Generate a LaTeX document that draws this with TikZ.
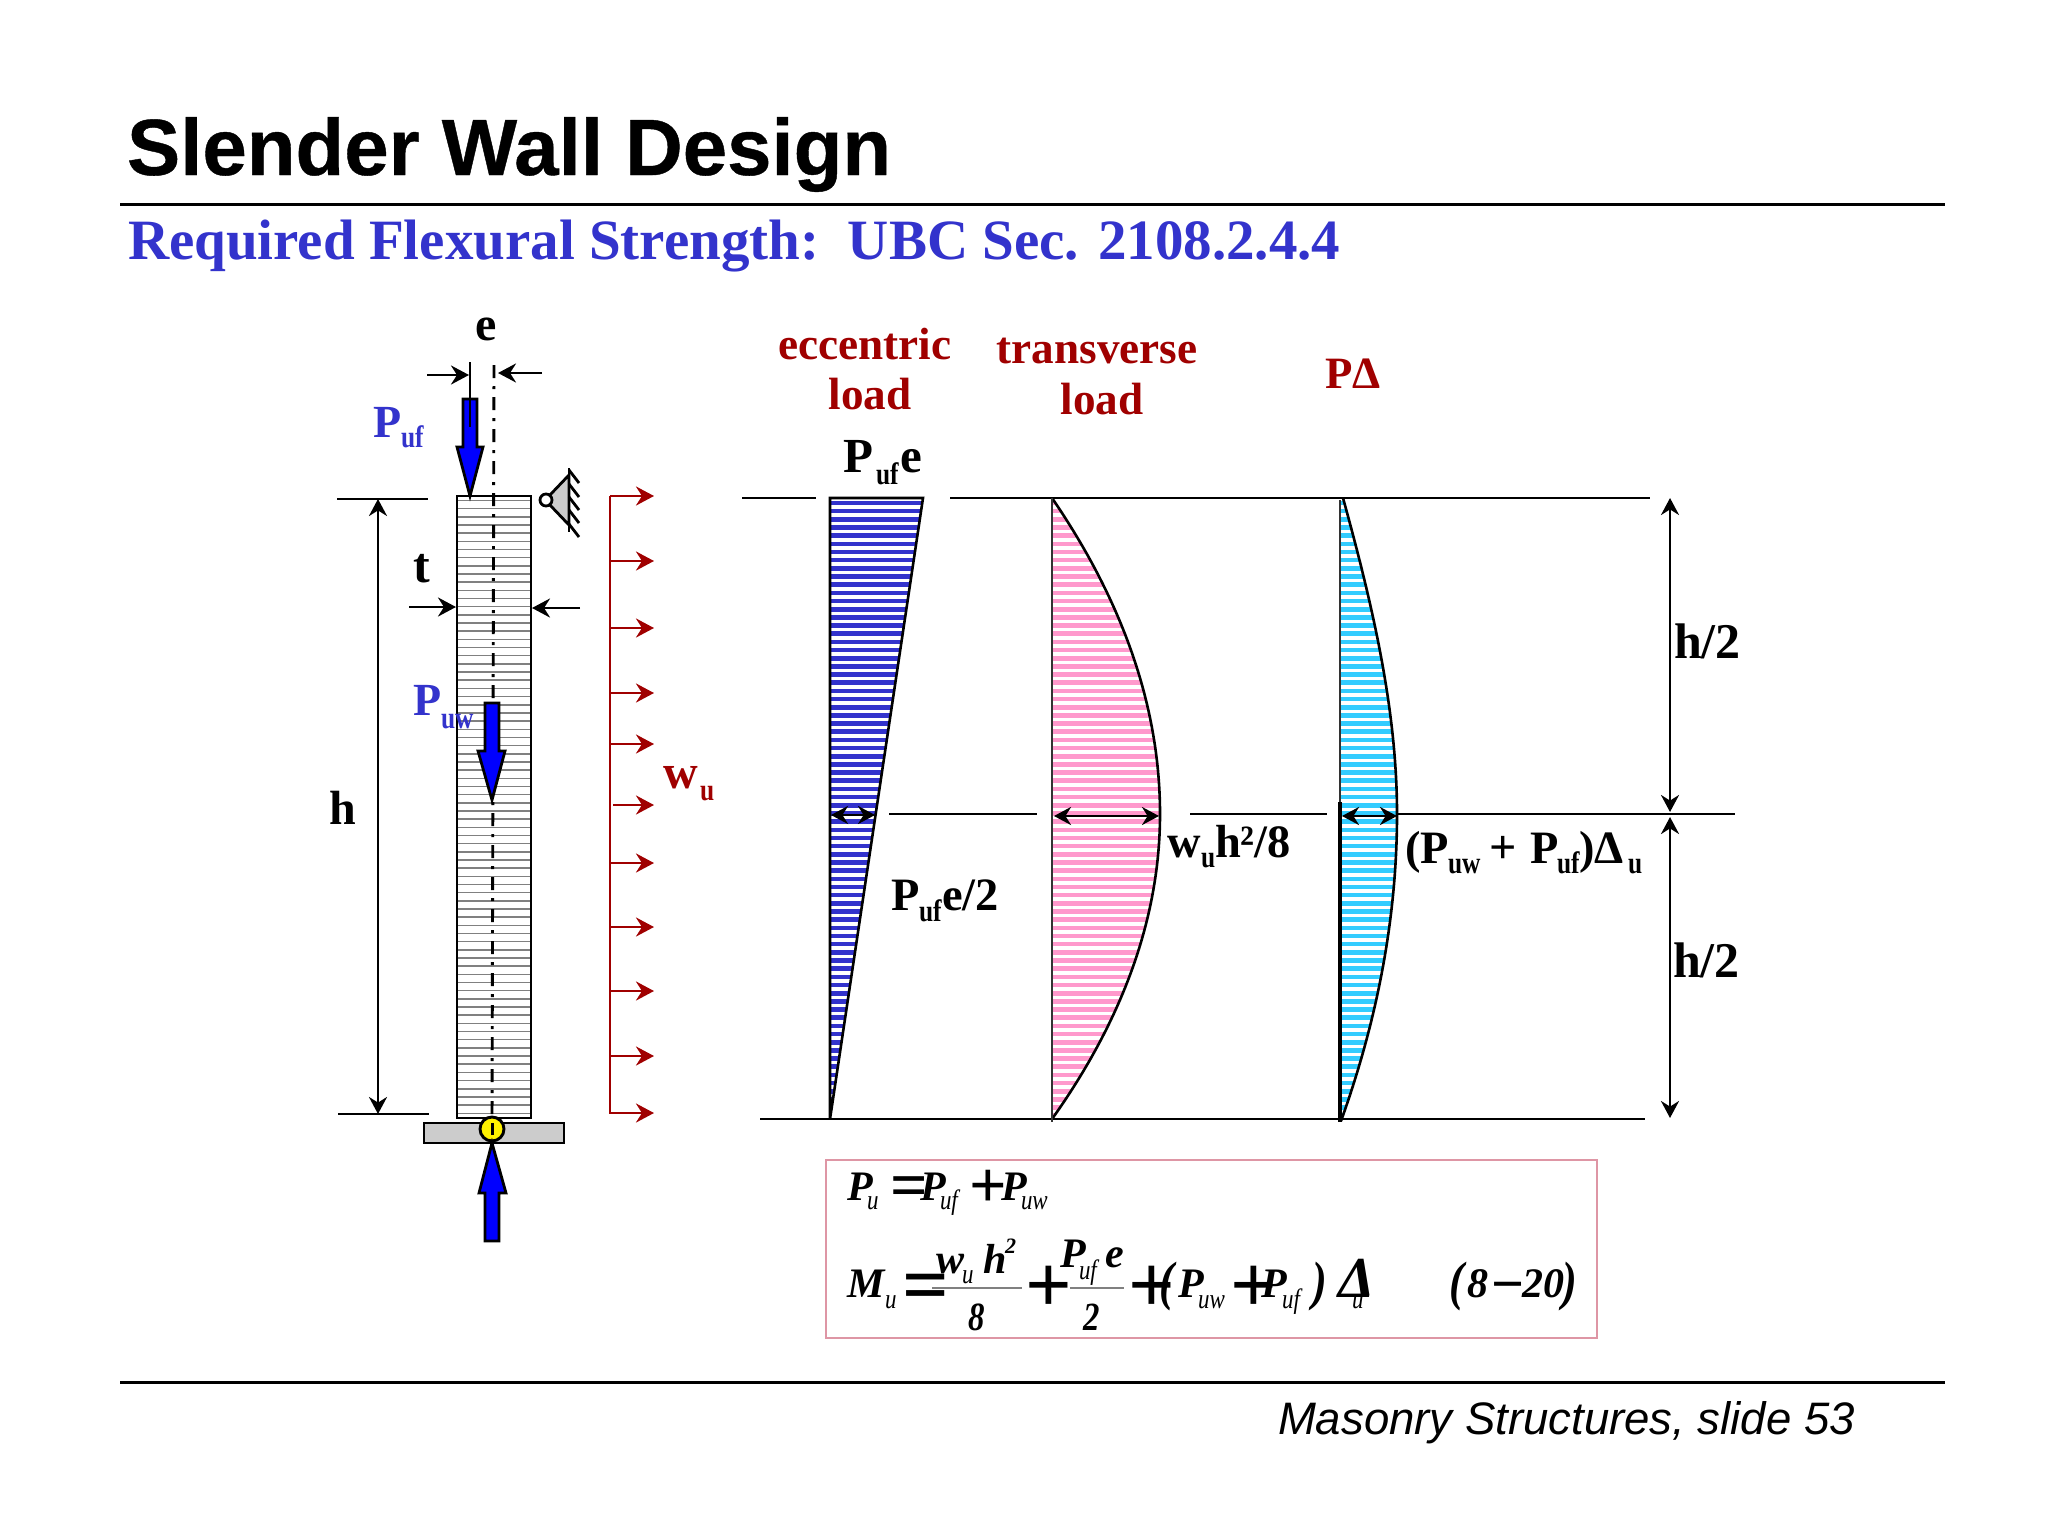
\documentclass[tikz,border=0pt]{standalone}
\usepackage{fontspec}
\usetikzlibrary{arrows.meta}
\setmainfont{Liberation Serif}
\newfontfamily\arialfont{Liberation Sans}
\newfontfamily\arialheavy{Liberation Sans}[FakeBold=0.5]
\newfontfamily\condf{Liberation Serif}[FakeStretch=0.82]
\definecolor{slideblue}{RGB}{51,51,204}
\definecolor{loadred}{RGB}{160,0,0}
\definecolor{hatchpink}{RGB}{255,153,204}
\definecolor{hatchcyan}{RGB}{51,204,255}
\definecolor{arrowblue}{RGB}{0,0,255}
\definecolor{boxpink}{RGB}{222,150,165}
\newcommand\fsz[1]{\fontsize{#1}{#1}\selectfont}
\newcommand\lbl[4][]{\node[tx,#1] (#2) at (#3) {#4};}
\tikzset{
 tx/.style={inner sep=0pt,outer sep=0pt,anchor=base west},
 bigb/.style={font=\fsz{23.2}\bfseries},
 subb/.style={font=\condf\fsz{15.5}\bfseries},
 head/.style={font=\fsz{22.6}\bfseries,text=loadred,anchor=base},
 fi/.style={font=\fsz{21}\bfseries\itshape},
 fparen/.style={font=\condf\fsz{27}\bfseries\itshape},
 fnum/.style={font=\condf\fsz{20}\bfseries\itshape},
 fs/.style={font=\condf\fsz{14}\itshape},
 fop/.style={anchor=center},
 blk/.style={draw=black,line width=1.45pt},
 redl/.style={draw=loadred,line width=1.4pt},
 dimtip/.style={-{Stealth[length=9pt,width=9.5pt,inset=3pt]}},
 dimboth/.style={{Stealth[length=8.5pt,width=9pt,inset=2.8pt]}-{Stealth[length=8.5pt,width=9pt,inset=2.8pt]},draw=black,line width=1.45pt},
 bluearrow/.style={draw=black,line width=1.4pt,fill=arrowblue,line join=miter},
 stripe/.style={line width=2.3pt},
}
\begin{document}
\begin{tikzpicture}[x=0.5pt,y=-0.5pt]
\fill[white] (0,0) rectangle (2048,1536);
\useasboundingbox (0,0) rectangle (2048,1536);

% heading
\lbl[font=\arialheavy\fsz{39.9}\bfseries]{title}{127,175}{Slender Wall Design}
\lbl[font=\fsz{28.5}\bfseries,text=slideblue]{subtitle}{128,259}{Required Flexural Strength:\ \ UBC Sec. 2108.2.4.4}
\draw[line width=1.5pt] (120,204.5) -- (1945,204.5);
\draw[line width=1.5pt] (120,1382) -- (1945,1382);
\lbl[font=\arialfont\fsz{22.76}\itshape]{footer}{1278,1434}{Masonry Structures, slide 53}

% wall
\foreach \k in {0,...,75}{\draw[black!50,line width=0.75pt] (457,{500.5+8.17*\k}) -- (531,{500.5+8.17*\k});}
\draw[blk] (457,496) rectangle (531,1118);
\draw[blk,dash pattern=on 6.5pt off 4pt on 1.5pt off 4pt] (494,365) -- (492,1121);
\draw[blk,fill=black!20] (424,1123) rectangle (564,1143);
\draw[blk,fill=yellow] (492,1129) circle (12);
\draw[line width=1.5pt] (492,1123) -- (492,1135);

% force arrows
\draw[bluearrow] (463,399) -- (477,399) -- (477,447) -- (483,447) -- (470,496) -- (457,447) -- (463,447) -- cycle;
\draw[line width=1.4pt] (470,362) -- (470,427);
\draw[bluearrow] (485,703) -- (499,703) -- (499,751) -- (505,751) -- (492,800) -- (478,751) -- (485,751) -- cycle;
\draw[bluearrow] (485,1241) -- (499,1241) -- (499,1193) -- (506,1193) -- (492,1143) -- (479,1193) -- (485,1193) -- cycle;

% e and t dimensions
\coordinate (eL) at (427,375); \coordinate (eLe) at (469,375);
\coordinate (eR) at (542,373); \coordinate (eRe) at (498,373);
\coordinate (tL) at (409,607); \coordinate (tLe) at (456,607);
\coordinate (tR) at (580,608); \coordinate (tRe) at (532,608);
\draw[blk,dimtip] (eL) -- (eLe);
\draw[blk,dimtip] (eR) -- (eRe);
\draw[blk,dimtip] (tL) -- (tLe);
\draw[blk,dimtip] (tR) -- (tRe);

% h dimension
\draw[blk] (337,499) -- (428,499);
\draw[blk] (338,1114) -- (429,1114);
\coordinate (hT) at (378,499); \coordinate (hB) at (378,1114);
\draw[dimboth] (hT) -- (hB);

% support
\draw[line width=1.4pt,fill=black!20] (549,496) -- (569,475) -- (569,525) -- (549,504) -- cycle;
\draw[line width=1.4pt,fill=white] (546,500) circle (6);
\draw[line width=1.4pt] (569,468) -- (569,532);
\foreach \s in {470,484,497,510,524}{\draw[line width=1.4pt] (569,\s) -- (579,\s+13);}

% lateral load
\draw[redl] (610,496) -- (610,1114);
\foreach \yy/\xs in {496/610,561/610,628/610,693/610,744/610,805/613,863/610,927/610,991/610,1056/610,1113/610}{
  \draw[redl,dimtip] (\xs,\yy) -- (654,\yy);
}

% wall labels
\lbl[font=\fsz{24}\bfseries]{lblE}{475,340}{e}
\lbl[font=\fsz{25}\bfseries]{lblT}{413,582}{t}
\lbl[font=\fsz{24}\bfseries]{lblH}{329,824}{h}
\lbl[text=slideblue,font=\fsz{23}\bfseries]{lblPuf}{373,437}{P}
\lbl[text=slideblue,subb]{lblPufs}{401,447}{uf}
\lbl[text=slideblue,font=\fsz{23}\bfseries]{lblPuw}{413,715}{P}
\lbl[text=slideblue,subb]{lblPuws}{441,728}{uw}
\lbl[text=loadred,font=\fsz{24}\bfseries]{lblW}{663,788}{w}
\lbl[text=loadred,subb]{lblWs}{700,800}{u}

% moment diagrams: reference lines
\draw[blk] (742,498) -- (816,498);
\draw[blk] (950,498) -- (1650,498);
\draw[blk] (889,814) -- (1037,814);
\draw[blk] (1190,814) -- (1327,814);
\draw[blk] (1398,814) -- (1735,814);
\draw[blk] (760,1119) -- (1645,1119);

% blue triangle
\begin{scope}
\clip (830,498) -- (923,498) -- (830,1119) -- cycle;
\foreach \k in {0,...,76}{\draw[slideblue,stripe] (820,{503+8.17*\k}) -- (930,{503+8.17*\k});}
\end{scope}
\draw[line width=1.3pt,line join=miter] (830,498) -- (923,498) -- (830,1119) -- cycle;

% pink parabola
\begin{scope}
\clip (1052,498) .. controls (1124,603.3) and (1160,708.7) .. (1160,814) .. controls (1160,915.7) and (1124,1017.8) .. (1052,1119) -- cycle;
\foreach \k in {0,...,76}{\draw[hatchpink,stripe] (1045,{503+8.17*\k}) -- (1170,{503+8.17*\k});}
\end{scope}
\draw[line width=1.3pt] (1052,498) .. controls (1124,603.3) and (1160,708.7) .. (1160,814) .. controls (1160,915.7) and (1124,1017.8) .. (1052,1119);
\draw[draw=black!80,line width=1.3pt] (1052,498) -- (1052,1122);

% cyan parabola
\begin{scope}
\clip (1343,498) .. controls (1372,603.3) and (1397,708.7) .. (1397,814) .. controls (1397,915.7) and (1378,1017.8) .. (1341,1119) -- (1340,498) -- cycle;
\foreach \k in {0,...,76}{\draw[hatchcyan,stripe] (1335,{503+8.17*\k}) -- (1405,{503+8.17*\k});}
\end{scope}
\draw[line width=1.3pt] (1343,498) .. controls (1372,603.3) and (1397,708.7) .. (1397,814) .. controls (1397,915.7) and (1378,1017.8) .. (1341,1121);
\draw[draw=black!80,line width=1.1pt] (1340,500) -- (1340,802);
\draw[line width=1.8pt] (1340,802) -- (1340,1122);

% moment widths
\coordinate (bA) at (831,815); \coordinate (bB) at (875,815);
\coordinate (pA) at (1054,816); \coordinate (pB) at (1159,816);
\coordinate (cA) at (1342,816); \coordinate (cB) at (1397,816);
\draw[dimboth] (bA) -- (bB);
\draw[dimboth] (pA) -- (pB);
\draw[dimboth] (cA) -- (cB);

% h/2 dimensions
\coordinate (dA) at (1670,498); \coordinate (dB) at (1670,812);
\coordinate (dC) at (1670,817); \coordinate (dD) at (1670,1118);
\draw[dimboth] (dA) -- (dB);
\draw[dimboth] (dC) -- (dD);
\lbl[font=\fsz{25}\bfseries]{hHalfA}{1674,658}{h/2}
\lbl[font=\fsz{25}\bfseries]{hHalfB}{1673,977}{h/2}

% column headings
\node[tx,head] (hEcc) at (865,359) {eccentric};
\node[tx,head] (hEccL) at (870,409) {load};
\node[tx,head] (hTrn) at (1097,363) {transverse};
\node[tx,head] (hTrnL) at (1102,414) {load};
\lbl[font=\fsz{22.4}\bfseries,text=loadred]{hPD}{1325,388}{PΔ}

% diagram labels
\lbl[font=\fsz{24.5}\bfseries]{a1}{843,472}{P}
\lbl[subb]{a2}{876,484}{uf}
\lbl[font=\fsz{24.5}\bfseries]{a3}{900,472}{e}
\lbl[bigb]{b1}{891,910}{P}
\lbl[subb]{b2}{919,921}{uf}
\lbl[bigb]{b3}{942,910}{e/2}
\lbl[bigb]{c1}{1167,857}{w}
\lbl[subb]{c2}{1201,867}{u}
\lbl[bigb]{c3}{1215,857}{h²/8}
\lbl[bigb]{d1}{1405,863}{(P}
\lbl[subb]{d2}{1448,873}{uw}
\node[inner sep=0pt,font=\fsz{24}\bfseries,anchor=base] (d3) at (1503,863) {+};
\lbl[bigb]{d4}{1530,863}{P}
\lbl[subb]{d5}{1557,873}{uf}
\lbl[bigb]{d6}{1579,863}{)Δ}
\lbl[subb]{d7}{1628,873}{u}

% equation box
\draw[draw=boxpink,line width=0.7pt] (826,1160) rectangle (1597,1338);
\lbl[fi]{e1}{847,1200}{P}
\lbl[fs]{e2}{867,1209}{u}
\node[fop,font=\fsz{33}\bfseries] (e3) at (909,1192) {=};
\lbl[fi]{e4}{920,1200}{P}
\lbl[fs]{e5}{940,1209}{uf}
\node[fop,font=\fsz{33}\bfseries] (e6) at (988,1189) {+};
\lbl[fi]{e7}{1001,1200}{P}
\lbl[fs]{e8}{1021,1209}{uw}

\lbl[fi]{f1}{847,1297}{M}
\lbl[fs]{f2}{885,1308}{u}
\node[fop,font=\fsz{41}\bfseries] (f3) at (926,1293) {=};
\lbl[fi]{f4}{936,1273}{w}
\lbl[fs]{f5}{962,1283}{u}
\lbl[fi]{f6}{983,1273}{h}
\lbl[font=\fsz{11}\bfseries\itshape]{f7}{1005,1253}{2}
\draw[draw=gray,line width=0.8pt] (932,1288) -- (1022,1288);
\lbl[fnum]{f8}{968,1330}{8}
\node[fop,font=\fsz{41}\bfseries] (f9) at (1049,1289) {+};
\lbl[fi]{f10}{1060,1267}{P}
\lbl[fs]{f11}{1079,1279}{uf}
\lbl[fi]{f12}{1105,1267}{e}
\draw[draw=gray,line width=0.8pt] (1070,1288) -- (1124,1288);
\lbl[fnum]{f13}{1083,1330}{2}
\node[fop,font=\fsz{41}\bfseries] (f14) at (1152,1289) {+};
\lbl[fparen]{f15}{1159,1299}{(}
\lbl[fi]{f16}{1178,1297}{P}
\lbl[fs]{f17}{1198,1308}{uw}
\node[fop,font=\fsz{41}\bfseries] (f18) at (1254,1289) {+};
\lbl[fi]{f19}{1261,1297}{P}
\lbl[fs]{f20}{1282,1308}{uf}
\lbl[fparen]{f21}{1312,1299}{)}
\lbl[font=\fsz{29}\bfseries\itshape]{f22}{1338,1297}{Δ}
\lbl[fs]{f23}{1352,1308}{u}
\lbl[fparen]{f24}{1449,1299}{(}
\lbl[fi]{f25}{1467,1297}{8}
\node[fop,font=\fsz{29}\bfseries] (f26) at (1508,1293) {−};
\lbl[fi]{f27}{1522,1297}{20}
\lbl[fparen]{f28}{1562,1299}{)}
\end{tikzpicture}
\end{document}
